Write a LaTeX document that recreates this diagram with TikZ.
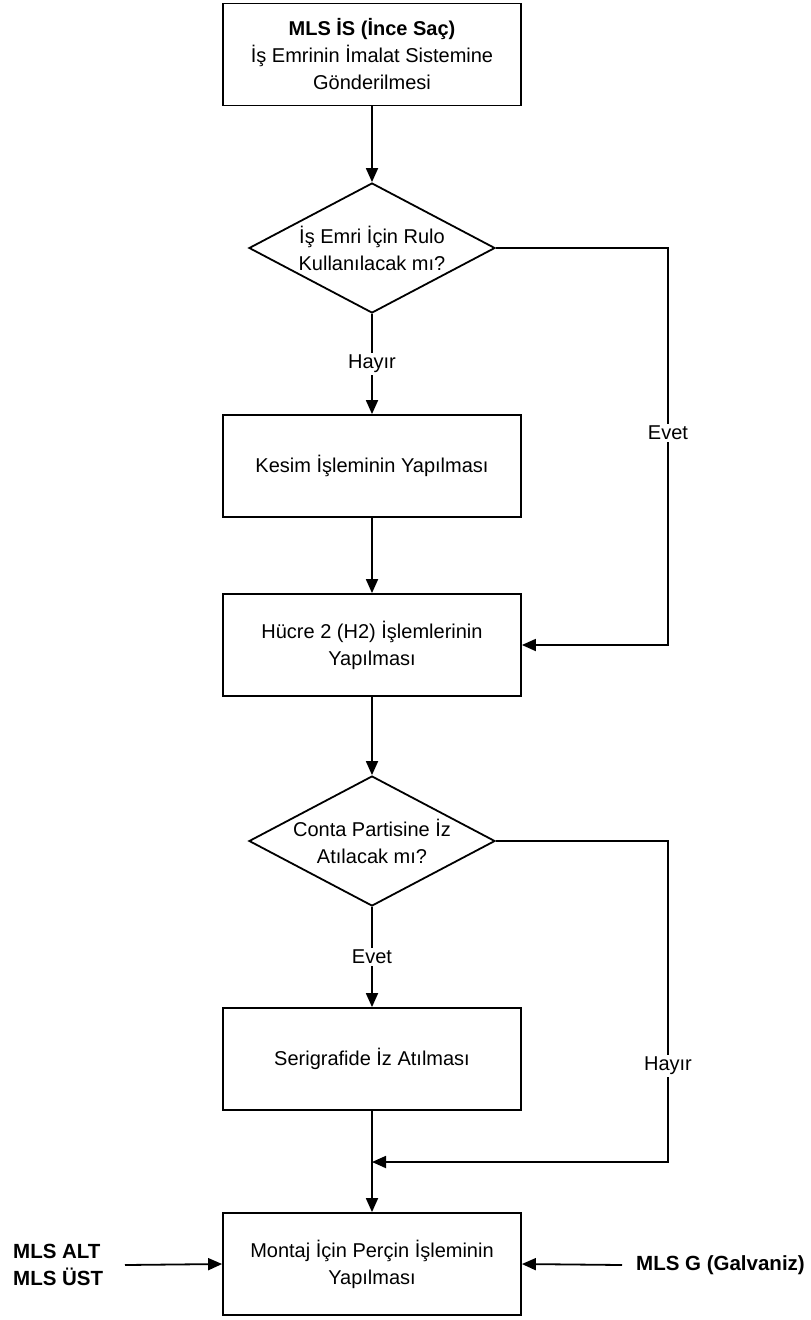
\documentclass[tikz,border=0pt]{standalone}
\usepackage{fontspec}
\setmainfont{Liberation Sans}
\usetikzlibrary{shapes.geometric,arrows.meta}
\begin{document}
\begin{tikzpicture}[x=1pt,y=-1pt,
  every node/.style={font=\fontsize{20}{27}\selectfont},
  proc/.style={draw,line width=1.8pt,minimum width=298pt,minimum height=102pt,align=center,inner sep=0pt},
  decision/.style={draw,diamond,line width=1.8pt,minimum width=246pt,minimum height=130pt,inner sep=0pt},
  dtext/.style={align=center,inner sep=0pt},
  lbl/.style={fill=white,inner sep=2pt},
  flow/.style={line width=1.8pt,-{Triangle[length=14pt,width=12pt]}},
  side/.style={font=\fontsize{20.5}{27}\bfseries\selectfont,align=left,inner sep=0pt}]
\useasboundingbox (0,0) rectangle (811,1320);

% process steps and decisions
\node[proc] (b1) at (372,54.5) {\textbf{MLS İS (İnce Saç)}\\İş Emrinin İmalat Sistemine\\Gönderilmesi};
\node[decision] (d1) at (372,248) {};
\node[dtext] (t1) at (d1.center) {İş Emri İçin Rulo\\Kullanılacak mı?};
\node[proc] (b2) at (372,466) {Kesim İşleminin Yapılması};
\node[proc] (b3) at (372,645) {Hücre 2 (H2) İşlemlerinin\\Yapılması};
\node[decision] (d2) at (372,841) {};
\node[dtext] (t2) at (d2.center) {Conta Partisine İz\\Atılacak mı?};
\node[proc] (b4) at (372,1059) {Serigrafide İz Atılması};
\node[proc] (b5) at (372,1264) {Montaj İçin Perçin İşleminin\\Yapılması};

% external inputs
\node[side,anchor=west] (alt) at (13,1265) {MLS ALT\\MLS ÜST};
\node[side,anchor=west] (gal) at (636,1265) {MLS G (Galvaniz)};

% routing points
\coordinate (r1) at (668,248);
\coordinate (r2) at (668,841);
\coordinate (j) at (372,1162);
\coordinate (altStart) at (125,1265);
\coordinate (galStart) at (622,1265);

% connectors
\draw[flow] (b1) -- (d1);
\draw[flow] (d1) -- node[lbl]{Hayır} (b2);
\draw[flow] (b2) -- (b3);
\draw[flow] (d1.east) -- (r1) -- node[lbl,pos=0.465]{Evet} (r1 |- b3.east) -- (b3.east);
\draw[flow] (b3) -- (d2);
\draw[flow] (d2) -- node[lbl]{Evet} (b4);
\draw[flow] (b4) -- (b5);
\draw[flow] (d2.east) -- (r2) -- node[lbl,pos=0.70]{Hayır} (r2 |- j) -- (j);
\draw[flow] (altStart) -- (b5.west);
\draw[flow] (galStart) -- (b5.east);
\end{tikzpicture}
\end{document}
